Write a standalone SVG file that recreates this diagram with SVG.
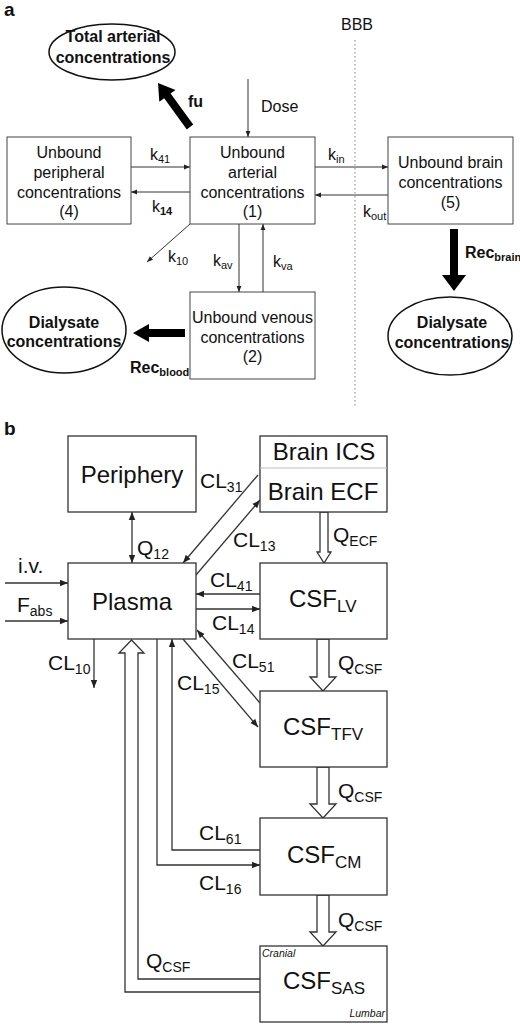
<svg xmlns="http://www.w3.org/2000/svg" width="520" height="1024" viewBox="0 0 520 1024">
<style>
text{font-family:"Liberation Sans",Arial,sans-serif;fill:#111}
.box{fill:#fff;stroke:#444;stroke-width:1}
.boxb{fill:#fff;stroke:#333;stroke-width:1.3}
.ell{fill:#fff;stroke:#111;stroke-width:1.5}
.ta{font-size:16px}
.tb{font-size:16px;font-weight:bold}
.big{font-size:24px}
.lbl{font-size:21px}
.k{font-size:16px}
.sub{font-size:11px}
.subb{font-size:14px}
.ln{fill:none;stroke:#333;stroke-width:1}
.lnb{fill:none;stroke:#333;stroke-width:1.3}
.hollow{fill:#fff;stroke:#333;stroke-width:1.3;stroke-linejoin:miter}
.thick{fill:#000;stroke:none}
</style>
<defs>
<marker id="ha" viewBox="0 0 10 10" refX="10" refY="5" markerUnits="userSpaceOnUse" markerWidth="6" markerHeight="6" orient="auto-start-reverse"><path d="M0,1 L10,5 L0,9 z" fill="#222"/></marker>
<marker id="hb" viewBox="0 0 10 10" refX="10" refY="5" markerUnits="userSpaceOnUse" markerWidth="8" markerHeight="8" orient="auto-start-reverse"><path d="M0,1 L10,5 L0,9 z" fill="#222"/></marker>
</defs>

<!-- Part a -->
<text x="4" y="16" font-size="19" font-weight="bold">a</text>
<text x="357" y="30" class="ta" text-anchor="middle">BBB</text>
<line x1="355" y1="40" x2="355" y2="408" stroke="#888" stroke-width="1" stroke-dasharray="1.5,2.5"/>

<g id="connectors-a">
  <line class="ln" x1="248" y1="79" x2="248" y2="137" marker-end="url(#ha)"/>
  <line class="ln" x1="131" y1="167" x2="190" y2="167" marker-end="url(#ha)"/>
  <line class="ln" x1="190" y1="192" x2="131" y2="192" marker-end="url(#ha)"/>
  <line class="ln" x1="315" y1="167" x2="388" y2="167" marker-end="url(#ha)"/>
  <line class="ln" x1="388" y1="195" x2="315" y2="195" marker-end="url(#ha)"/>
  <line class="ln" x1="190" y1="224" x2="147" y2="262" marker-end="url(#ha)"/>
  <line class="ln" x1="239" y1="224" x2="239" y2="292" marker-end="url(#ha)"/>
  <line class="ln" x1="263" y1="292" x2="263" y2="224" marker-end="url(#ha)"/>
  <polygon class="thick" points="193.2,124.6 170.6,93.5 175.5,90 158,83 159.3,101.8 164.2,98.3 186.8,129.4"/>
  <polygon class="thick" points="450,229 458,229 458,275 466,275 454,291 442,275 450,275"/>
  <polygon class="thick" points="185,329 149,329 149,324 133,333 149,342 149,337 185,337"/>
  <text x="261" y="112" class="ta">Dose</text>
  <text x="188" y="107" class="tb">fu</text>
  <text x="150" y="160" class="k">k<tspan class="sub" dy="3">41</tspan></text>
  <text x="152" y="212" class="k">k<tspan class="sub" dy="3" font-weight="bold">14</tspan></text>
  <text x="328" y="160" class="k">k<tspan class="sub" dy="3">in</tspan></text>
  <text x="363" y="217" class="k">k<tspan class="sub" dy="3">out</tspan></text>
  <text x="168" y="262" class="k">k<tspan class="sub" dy="3">10</tspan></text>
  <text x="213" y="266" class="k">k<tspan class="sub" dy="3">av</tspan></text>
  <text x="273" y="267" class="k">k<tspan class="sub" dy="3">va</tspan></text>
  <text x="130" y="373" class="tb">Rec<tspan font-size="11" dy="3">blood</tspan></text>
  <text x="465" y="258" class="tb">Rec<tspan font-size="11" dy="3">brain</tspan></text>
</g>

<g id="total-arterial">
  <ellipse class="ell" cx="112" cy="52" rx="63" ry="28"/>
  <text x="113" y="42" class="tb" text-anchor="middle">Total arterial</text>
  <text x="113" y="63" class="tb" text-anchor="middle">concentrations</text>
</g>
<g id="unbound-peripheral">
  <rect class="box" x="7" y="137" width="124" height="87"/>
  <text x="69" y="158" class="ta" text-anchor="middle">Unbound</text>
  <text x="69" y="178" class="ta" text-anchor="middle">peripheral</text>
  <text x="69" y="198" class="ta" text-anchor="middle">concentrations</text>
  <text x="69" y="217" class="ta" text-anchor="middle">(4)</text>
</g>
<g id="unbound-arterial">
  <rect class="box" x="190" y="137" width="125" height="87"/>
  <text x="252.5" y="158" class="ta" text-anchor="middle">Unbound</text>
  <text x="252.5" y="178" class="ta" text-anchor="middle">arterial</text>
  <text x="252.5" y="198" class="ta" text-anchor="middle">concentrations</text>
  <text x="252.5" y="217" class="ta" text-anchor="middle">(1)</text>
</g>
<g id="unbound-brain">
  <rect class="box" x="388" y="137" width="125" height="87"/>
  <text x="450.5" y="168" class="ta" text-anchor="middle">Unbound brain</text>
  <text x="450.5" y="188" class="ta" text-anchor="middle">concentrations</text>
  <text x="450.5" y="208" class="ta" text-anchor="middle">(5)</text>
</g>
<g id="unbound-venous">
  <rect class="box" x="190" y="292" width="125" height="87"/>
  <text x="252.5" y="323" class="ta" text-anchor="middle">Unbound venous</text>
  <text x="252.5" y="343" class="ta" text-anchor="middle">concentrations</text>
  <text x="252.5" y="362" class="ta" text-anchor="middle">(2)</text>
</g>
<g id="dialysate-blood">
  <ellipse class="ell" cx="64" cy="330" rx="62" ry="43"/>
  <text x="64" y="328" class="tb" text-anchor="middle">Dialysate</text>
  <text x="64" y="347" class="tb" text-anchor="middle">concentrations</text>
</g>
<g id="dialysate-brain">
  <ellipse class="ell" cx="450" cy="336" rx="62" ry="39"/>
  <text x="452" y="328" class="tb" text-anchor="middle">Dialysate</text>
  <text x="452" y="348" class="tb" text-anchor="middle">concentrations</text>
</g>

<!-- Part b -->
<text x="4" y="435" font-size="19" font-weight="bold">b</text>

<g id="connectors-b">
  <line class="lnb" x1="132" y1="512" x2="132" y2="563" marker-start="url(#hb)" marker-end="url(#hb)"/>
  <line class="lnb" x1="5" y1="583" x2="68" y2="583" marker-end="url(#hb)"/>
  <line class="lnb" x1="5" y1="621" x2="68" y2="621" marker-end="url(#hb)"/>
  <line class="lnb" x1="258" y1="475" x2="183" y2="563" marker-end="url(#hb)"/>
  <line class="lnb" x1="196" y1="575" x2="260" y2="500" marker-end="url(#hb)"/>
  <line class="lnb" x1="260" y1="594" x2="196" y2="594" marker-end="url(#hb)"/>
  <line class="lnb" x1="196" y1="609" x2="260" y2="609" marker-end="url(#hb)"/>
  <line class="lnb" x1="260" y1="703" x2="197" y2="630" marker-end="url(#hb)"/>
  <line class="lnb" x1="183" y1="639" x2="258" y2="727" marker-end="url(#hb)"/>
  <line class="lnb" x1="94" y1="639" x2="94" y2="688" marker-end="url(#hb)"/>
  <polyline class="lnb" points="260,850 172,850 172,639" marker-end="url(#hb)"/>
  <polyline class="lnb" points="157,639 157,865 260,865" marker-end="url(#hb)"/>
  <path class="hollow" d="M260,992 L125,992 L125,653 L119,653 L131.5,640 L144,653 L138,653 L138,979 L260,979"/>
  <polygon class="hollow" points="320,512 320,552 317,552 324,563 331,552 328,552 328,512"/>
  <polygon class="hollow" points="317,639 317,677 310,677 323,691 336,677 329,677 329,639"/>
  <polygon class="hollow" points="317,767 317,804 310,804 323,818 336,804 329,804 329,767"/>
  <polygon class="hollow" points="317,895 317,932 310,932 323,946 336,932 329,932 329,895"/>
  <text x="137" y="555" class="lbl">Q<tspan class="subb" dy="4">12</tspan></text>
  <text x="18" y="573" class="lbl">i.v.</text>
  <text x="17" y="612" class="lbl">F<tspan class="subb" dy="4">abs</tspan></text>
  <text x="200" y="488" class="lbl">CL<tspan class="subb" dy="4">31</tspan></text>
  <text x="233" y="547" class="lbl">CL<tspan class="subb" dy="4">13</tspan></text>
  <text x="210" y="587" class="lbl">CL<tspan class="subb" dy="4">41</tspan></text>
  <text x="212" y="630" class="lbl">CL<tspan class="subb" dy="4">14</tspan></text>
  <text x="232" y="668" class="lbl">CL<tspan class="subb" dy="4">51</tspan></text>
  <text x="177" y="690" class="lbl">CL<tspan class="subb" dy="4">15</tspan></text>
  <text x="48" y="670" class="lbl">CL<tspan class="subb" dy="4">10</tspan></text>
  <text x="199" y="840" class="lbl">CL<tspan class="subb" dy="4">61</tspan></text>
  <text x="199" y="890" class="lbl">CL<tspan class="subb" dy="4">16</tspan></text>
  <text x="333" y="542" class="lbl">Q<tspan class="subb" dy="4">ECF</tspan></text>
  <text x="338" y="670" class="lbl">Q<tspan class="subb" dy="4">CSF</tspan></text>
  <text x="338" y="798" class="lbl">Q<tspan class="subb" dy="4">CSF</tspan></text>
  <text x="338" y="927" class="lbl">Q<tspan class="subb" dy="4">CSF</tspan></text>
  <text x="146" y="968" class="lbl">Q<tspan class="subb" dy="4">CSF</tspan></text>
</g>

<g id="periphery">
  <rect class="boxb" x="68" y="436" width="128" height="76"/>
  <text x="132" y="483" class="big" text-anchor="middle">Periphery</text>
</g>
<g id="plasma">
  <rect class="boxb" x="68" y="563" width="128" height="76"/>
  <text x="132" y="610" class="big" text-anchor="middle">Plasma</text>
</g>
<g id="brain">
  <rect class="boxb" x="260" y="436" width="127" height="76"/>
  <line x1="260" y1="468" x2="387" y2="468" stroke="#bbb" stroke-width="1"/>
  <text x="324" y="460" class="big" text-anchor="middle">Brain ICS</text>
  <text x="323" y="500" class="big" text-anchor="middle">Brain ECF</text>
</g>
<g id="csf-lv">
  <rect class="boxb" x="260" y="563" width="127" height="76"/>
  <text x="289" y="607" class="big">CSF<tspan font-size="17" dy="5">LV</tspan></text>
</g>
<g id="csf-tfv">
  <rect class="boxb" x="260" y="691" width="127" height="76"/>
  <text x="283" y="735" class="big">CSF<tspan font-size="17" dy="5">TFV</tspan></text>
</g>
<g id="csf-cm">
  <rect class="boxb" x="260" y="818" width="127" height="77"/>
  <text x="287" y="863" class="big">CSF<tspan font-size="17" dy="5">CM</tspan></text>
</g>
<g id="csf-sas">
  <rect class="boxb" x="260" y="946" width="127" height="76"/>
  <text x="262" y="957" font-size="10.5" font-style="italic">Cranial</text>
  <text x="283" y="989" class="big">CSF<tspan font-size="17" dy="5">SAS</tspan></text>
  <text x="385" y="1017" font-size="10.5" font-style="italic" text-anchor="end">Lumbar</text>
</g>
</svg>
